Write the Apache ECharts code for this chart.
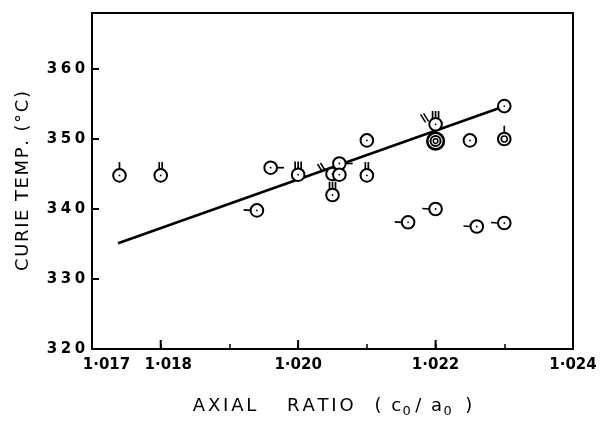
<!DOCTYPE html>
<html><head><meta charset="utf-8">
<script src="https://cdn.jsdelivr.net/npm/echarts@6/dist/echarts.min.js"></script>
<style>html,body{margin:0;padding:0;background:#fff}#c{width:614px;height:423px}</style>
</head><body><div id="c"></div>
<script>
// Data
const axialRatio = [1.0174, 1.0180, 1.0196, 1.0200, 1.0205, 1.0206, 1.0206, 1.0205, 1.0210, 1.0210, 1.0220, 1.0220, 1.0225, 1.0230, 1.0230, 1.0194, 1.0216, 1.0220, 1.0226, 1.0230];
const curieTemp  = [344.8, 344.8, 345.9, 344.9, 345.0, 346.5, 344.9, 342.0, 349.8, 344.8, 352.1, 349.7, 349.8, 354.7, 350.0, 339.8, 338.1, 340.0, 337.5, 338.0];
// annotation flag drawn with each point (as in the original figure)
const pointFlags = ['v1', 'v2', 'R', 'v3', 'D', 'R', '', 'v3', '', 'v2', 'v3D', 'ring3', '', '', 'ring2v1', 'L', 'L', 'L', 'L', 'L'];
const fitRatio = [1.01738, 1.02292];
const fitTemp  = [335.1, 354.4];
const xLabelValues = [1.017, 1.018, 1.020, 1.022, 1.024];
const xLabelTexts  = ['1·017', '1·018', '1·020', '1·022', '1·024'];
const xMajorTicks  = [1.018, 1.020, 1.022];
const yTitle = 'CURIE TEMP. (°C)';

const FONT = 'DejaVu Sans';
const chart = echarts.init(document.getElementById('c'), null, {renderer: 'canvas'});

// letter-spaced rich text helpers
const esc = s => s.replace(/[{}|]/g, '');
const spaced = (s, style) => s.split('').map(ch => ch === ' ' ? '{sp|}' : '{' + style + '|' + esc(ch) + '}').join('');

function drawPoint(params, api) {
  const c = api.coord([api.value(0), api.value(1)]);
  const x = c[0], y = c[1];
  const flag = pointFlags[params.dataIndex];
  const R = 6.3;
  const kids = [];
  const ln = (x1, y1, x2, y2, w) => kids.push({type: 'line', shape: {x1: x + x1, y1: y + y1, x2: x + x2, y2: y + y2}, style: {stroke: '#000', lineWidth: w || 1.7}});
  const ring = (r, w, fill) => kids.push({type: 'circle', shape: {cx: x, cy: y, r: r}, style: {stroke: '#000', lineWidth: w, fill: fill || 'none'}});
  if (flag === 'ring3') {
    ring(8.3, 2.6, '#fff'); ring(5.0, 2.0); ring(2.3, 1.5);
  } else if (flag === 'ring2v1') {
    ring(6.3, 2.1, '#fff'); ring(3.0, 1.6);
    ln(0, -R, 0, -R - 7);
  } else {
    ring(R, 2, '#fff');
    kids.push({type: 'circle', shape: {cx: x, cy: y, r: 0.9}, style: {fill: '#000'}});
  }
  if (flag === 'v1') ln(0, -R, 0, -R - 7);
  if (flag === 'v2') { ln(-1.5, -R, -1.5, -R - 7); ln(1.5, -R, 1.5, -R - 7); }
  if (flag === 'v3' || flag === 'v3D') { ln(-3, -R + 1, -3, -R - 7); ln(0, -R, 0, -R - 7); ln(3, -R + 1, 3, -R - 7); }
  if (flag === 'L') ln(-R, 0, -R - 7, -0.5);
  if (flag === 'R') ln(R, 0, R + 7, 0);
  if (flag === 'D' || flag === 'v3D') { ln(-15, -10, -10, -2, 1.5); ln(-12, -11, -7, -3, 1.5); }
  return {type: 'group', children: kids};
}

function drawMajorTick(params, api) {
  const c = api.coord([api.value(0), api.value(1)]);
  return {type: 'line', shape: {x1: c[0], y1: c[1], x2: c[0], y2: c[1] - 9}, style: {stroke: '#000', lineWidth: 2}};
}

const xName = '{t|AXIAL}{w1|}{t|RATIO}{w2|}{t|(}{w3|}{t|c}{s|0}{w4|}{t|/}{w3|}{t|a}{s|0}{w5|}{t|)}'
  .replace('{t|AXIAL}', spaced('AXIAL', 't')).replace('{t|RATIO}', spaced('RATIO', 't'));

const tickFont = {fontFamily: FONT, fontWeight: 'bold', fontSize: 15, color: '#000'};

chart.setOption({
  animation: false,
  backgroundColor: '#fff',
  grid: {left: 92, right: 41, top: 13, bottom: 69, show: true, borderColor: '#000', borderWidth: 2, backgroundColor: 'transparent'},
  xAxis: {
    type: 'value', min: 1.017, max: 1.024, interval: 0.001,
    axisLine: {show: true, onZero: false, lineStyle: {color: '#000', width: 2}},
    axisTick: {show: true, inside: true, length: 5, lineStyle: {color: '#000', width: 1.5}},
    splitLine: {show: false},
    axisLabel: Object.assign({}, tickFont, {
      margin: 9,
      formatter: v => {
        const i = xLabelValues.findIndex(t => Math.abs(t - v) < 1e-7);
        if (i < 0) return '';
        const st = i === 0 ? 'k0' : (i === 1 ? 'k1' : 'k');
        return '{' + st + '|' + xLabelTexts[i] + '}';
      },
      rich: {
        k: Object.assign({}, tickFont, {padding: [0, 1, 0, 1]}),
        k0: Object.assign({}, tickFont, {padding: [0, 0, 0, 29]}),
        k1: Object.assign({}, tickFont, {padding: [0, 0, 0, 15]})
      }
    }),
    name: xName,
    nameLocation: 'middle', nameGap: 45,
    nameTextStyle: {
      rich: {
        t: {fontFamily: FONT, fontSize: 18, color: '#000', lineHeight: 24, verticalAlign: 'middle', padding: [0, 1.4, 0, 1.4]},
        s: {fontFamily: FONT, fontSize: 13, color: '#000', lineHeight: 24, verticalAlign: 'bottom', padding: [10, 0, 0, 0]},
        sp: {width: 6},
        w1: {width: 28}, w2: {width: 18}, w3: {width: 7}, w4: {width: 3}, w5: {width: 12}
      }
    }
  },
  yAxis: {
    type: 'value', min: 320, max: 368, interval: 10,
    axisLine: {show: true, onZero: false, lineStyle: {color: '#000', width: 2}},
    axisTick: {show: true, inside: true, length: 7, lineStyle: {color: '#000', width: 2}},
    splitLine: {show: false},
    axisLabel: Object.assign({}, tickFont, {
      margin: 5, showMaxLabel: false,
      formatter: v => (Math.abs(v % 10) < 1e-6 ? spaced(String(v), 'd') : ''),
      rich: {d: Object.assign({}, tickFont, {padding: [0, 1.8, 0, 1.8]})}
    }),
    name: spaced(yTitle, 'y'), nameLocation: 'middle', nameGap: 60, nameRotate: 90,
    nameTextStyle: {
      rich: {
        y: {fontFamily: FONT, fontSize: 18, color: '#000', padding: [0, 0.8, 0, 0.8]},
        sp: {width: 7}
      }
    }
  },
  series: [
    {
      type: 'line', data: fitRatio.map((r, i) => [r, fitTemp[i]]),
      showSymbol: false, symbol: 'none', lineStyle: {color: '#000', width: 2.5}, z: 2, silent: true
    },
    {
      type: 'custom', renderItem: drawMajorTick, data: xMajorTicks.map(v => [v, 320]), z: 3, silent: true
    },
    {
      type: 'custom', renderItem: drawPoint, data: axialRatio.map((r, i) => [r, curieTemp[i]]), z: 5, silent: true
    }
  ]
});
</script>
</body></html>
